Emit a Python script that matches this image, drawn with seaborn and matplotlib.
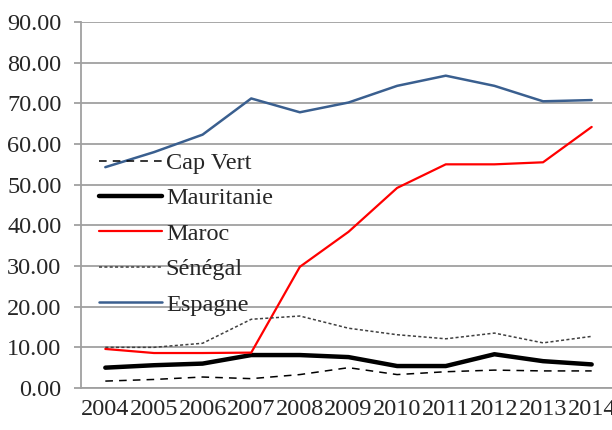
import seaborn as sns
import matplotlib.pyplot as plt
import pandas as pd
from matplotlib import font_manager

# données
annees = [2004, 2005, 2006, 2007, 2008, 2009, 2010, 2011, 2012, 2013, 2014]
cap_vert = [1.7, 2.1, 2.7, 2.3, 3.3, 5.0, 3.3, 4.0, 4.4, 4.2, 4.2]
mauritanie = [5.0, 5.6, 6.0, 8.1, 8.1, 7.6, 5.4, 5.4, 8.3, 6.6, 5.8]
maroc = [9.6, 8.6, 8.6, 8.7, 29.8, 38.4, 49.2, 55.0, 55.0, 55.5, 64.2]
senegal = [10.0, 10.0, 11.0, 16.9, 17.7, 14.7, 13.1, 12.1, 13.5, 11.1, 12.7]
espagne = [54.3, 58.0, 62.3, 71.2, 67.8, 70.2, 74.3, 76.8, 74.3, 70.5, 70.8]

series = {
    'Cap Vert': cap_vert,
    'Mauritanie': mauritanie,
    'Maroc': maroc,
    'Sénégal': senegal,
    'Espagne': espagne,
}
styles = {
    'Cap Vert': dict(color='black', linestyle=(0, (5, 4)), linewidth=1.1),
    'Mauritanie': dict(color='black', linestyle='-', linewidth=3.2),
    'Maroc': dict(color='#ff0000', linestyle='-', linewidth=1.6),
    'Sénégal': dict(color='#404040', linestyle=(0, (2, 1.5)), linewidth=1.1),
    'Espagne': dict(color='#3a5f8f', linestyle='-', linewidth=1.8),
}

sns.set_style('white')
noms = {f.name for f in font_manager.fontManager.ttflist}
serif = [n for n in ['Liberation Serif', 'Times New Roman', 'DejaVu Serif'] if n in noms]
plt.rcParams['font.family'] = 'serif'
plt.rcParams['font.serif'] = serif
fs = 17.5

fig = plt.figure(figsize=(6.12, 4.30), dpi=100)
ax = fig.add_axes([81 / 612, 42 / 430, 535 / 612, 366 / 430])

for nom, vals in series.items():
    df = pd.DataFrame({'x': range(len(annees)), 'y': vals})
    sns.lineplot(data=df, x='x', y='y', ax=ax, label=nom, **styles[nom])

ax.set_xlim(-0.5, len(annees) - 0.5)
ax.set_ylim(0, 90)
ax.set_xticks(range(len(annees)))
ax.set_xticklabels([str(a) for a in annees])
ax.set_yticks(range(0, 91, 10))
ax.set_yticklabels([f'{v:.2f}' for v in range(0, 91, 10)])
ax.set_xlabel('')
ax.set_ylabel('')

ax.yaxis.grid(True, color='#a0a0a0', linewidth=1.3)
ax.xaxis.grid(False)
ax.set_axisbelow(True)
for s in ['top', 'right']:
    ax.spines[s].set_visible(False)
for s in ['left', 'bottom']:
    ax.spines[s].set_color('#a0a0a0')
    ax.spines[s].set_linewidth(1.3)
ax.tick_params(axis='y', length=5, width=1.3, color='#a0a0a0', pad=9,
               labelsize=fs, left=True)
ax.tick_params(axis='x', length=0, pad=8, labelsize=fs)

ax.legend(loc='upper left', bbox_to_anchor=(99 / 612, 1 - 152 / 430),
          bbox_transform=fig.transFigure, frameon=False, fontsize=fs,
          borderpad=0, borderaxespad=0, labelspacing=0.55,
          handlelength=2.6, handletextpad=0.15)

plt.savefig('out.png', dpi=100)
